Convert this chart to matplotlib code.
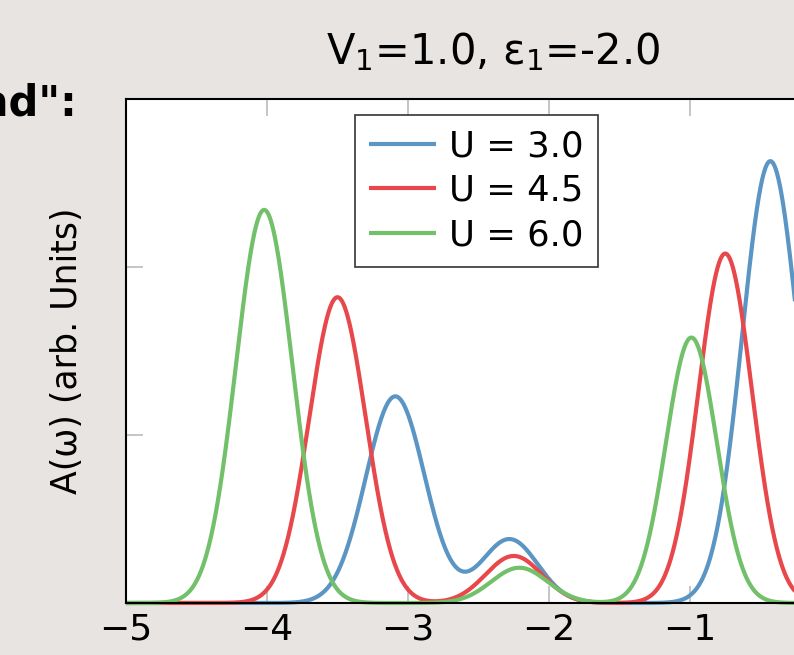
import numpy as np
import matplotlib
matplotlib.use("Agg")
import matplotlib.pyplot as plt

plt.rcParams['font.family'] = ['DejaVu Sans']

# ---- data (peak position, peak height, broadening) ----
series_labels = ["U = 3.0", "U = 4.5", "U = 6.0"]
series_colors = ["#5b95c4", "#e8484b", "#72c06a"]

peaks_u30 = [-3.09, -2.28, -0.43]
heights_u30 = [1.23, 0.38, 2.63]
widths_u30 = [0.21, 0.20, 0.20]

peaks_u45 = [-3.50, -2.25, -0.75]
heights_u45 = [1.82, 0.28, 2.08]
widths_u45 = [0.20, 0.20, 0.19]

peaks_u60 = [-4.02, -2.21, -0.99]
heights_u60 = [2.34, 0.21, 1.58]
widths_u60 = [0.20, 0.20, 0.18]

xticks = [-5, -4, -3, -2, -1]
xlim = (-5.0, 0.2)
ylim = (0.0, 3.0)
yticks = [0, 1, 2, 3]

series = [
    (peaks_u30, heights_u30, widths_u30),
    (peaks_u45, heights_u45, widths_u45),
    (peaks_u60, heights_u60, widths_u60),
]

W, H = 794, 655
fig = plt.figure(figsize=(W / 100, H / 100), dpi=100)
fig.patch.set_facecolor("#e7e4e1")

ax_left, ax_top, ax_bottom = 126, 99, 603
ax_width_px = 141 * (xlim[1] - xlim[0])
ax = fig.add_axes([ax_left / W, (H - ax_bottom) / H, ax_width_px / W, (ax_bottom - ax_top) / H])

omega = np.linspace(xlim[0], xlim[1], 2000)
for (pk, hts, wds), lab, col in zip(series, series_labels, series_colors):
    A = np.zeros_like(omega)
    for p, h, w in zip(pk, hts, wds):
        A += h * np.exp(-0.5 * ((omega - p) / w) ** 2)
    ax.plot(omega, A, color=col, lw=3.0, label=lab, solid_capstyle="butt", clip_on=False)

ax.set_xlim(*xlim)
ax.set_ylim(*ylim)
ax.set_xticks(xticks)
ax.set_yticks(yticks)
ax.set_yticklabels([])
ax.tick_params(axis="both", direction="in", length=12, width=1.2, color="#bbbbbb",
               top=True, right=True, labelsize=26, pad=7)
for s in ax.spines.values():
    s.set_color("black")
    s.set_linewidth(1.5)

ax.set_ylabel("A(ω) (arb. Units)", fontsize=25, labelpad=23)
ax.set_title("V$_1$=1.0, ε$_1$=-2.0", fontsize=30, pad=25)

leg = ax.legend(loc="upper left", bbox_to_anchor=((355 - ax_left) / ax_width_px, (ax_bottom - 115) / (ax_bottom - ax_top)),
                borderaxespad=0, fontsize=25.5, frameon=True, fancybox=False, framealpha=1,
                edgecolor="#333333", handlelength=1.9, handletextpad=0.35, labelspacing=0.3,
                borderpad=0.4)
leg.get_frame().set_linewidth(1.2)

fig.text(77 / W, 1 - 115 / H, 'band":', ha="right", va="baseline", fontsize=30, fontweight="bold")

fig.savefig("out.png", dpi=100, facecolor=fig.get_facecolor())
